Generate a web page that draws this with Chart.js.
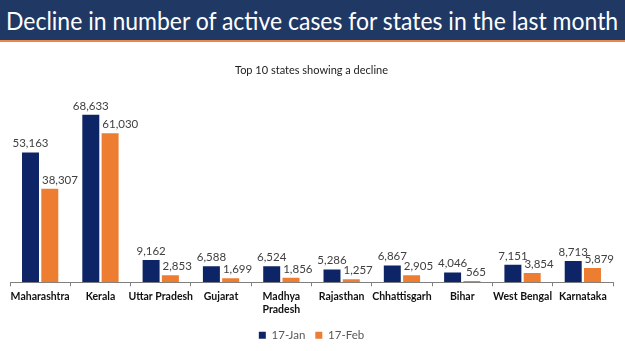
<!DOCTYPE html>
<html>
<head>
<meta charset="utf-8">
<script src="https://cdn.jsdelivr.net/npm/chart.js@4/dist/chart.umd.min.js"></script>
<style>
	html, body { margin:0; padding:0; background:#fff; }
	body { width:625px; height:351px; overflow:hidden; }
	.banner {
		height:40px; background:#1f3864; color:#fff;
		font-family:Lato, "Open Sans", sans-serif; font-size:25px;
		line-height:40px; white-space:nowrap; overflow:hidden;
		border-bottom:2px solid #e8894a;
	}
	.banner span { display:inline-block; transform-origin:0 50%; margin-left:6px; }
	.wrap { position:relative; width:625px; height:309px; }
</style>
</head>
<body>
<div class="banner"><span id="bannerText">Decline in number of active cases for states in the last month</span></div>
<div class="wrap"><canvas id="casesChart"></canvas></div>
<script>
const states = ['Maharashtra', 'Kerala', 'Uttar Pradesh', 'Gujarat', ['Madhya', 'Pradesh'], 'Rajasthan', 'Chhattisgarh', 'Bihar', 'West Bengal', 'Karnataka'];
const jan17 = [53163, 68633, 9162, 6588, 6524, 5286, 6867, 4046, 7151, 8713];
const feb17 = [38307, 61030, 2853, 1699, 1856, 1257, 2905, 565, 3854, 5879];
const seriesNames = ['17-Jan', '17-Feb'];

// squeeze the banner heading to the width it has in the slide
let bt = document.getElementById('bannerText');
bt.style.transform = 'scaleX(' + (612 / bt.offsetWidth) + ')';

// Excel style value labels above each bar, the second series pushed clear of the first
const valueLabels = {
	id: 'valueLabels',
	afterDatasetsDraw(chart) {
		const ctx = chart.ctx;
		ctx.save();
		ctx.font = '11.5px Lato, "Open Sans", sans-serif';
		ctx.fillStyle = '#404040';
		ctx.textAlign = 'left';
		ctx.textBaseline = 'bottom';
		const first = chart.getDatasetMeta(0).data;
		chart.data.datasets.forEach((ds, i) => {
			chart.getDatasetMeta(i).data.forEach((bar, j) => {
				let txt = ds.data[j].toLocaleString('en-US');
				let w = ctx.measureText(txt).width;
				let left = bar.x - w / 2;
				if (i == 1) {
					let prev = first[j];
					left += 4;
					if (prev.y < bar.y - 3) left = Math.max(left, prev.x + prev.width / 2 + 3);
				}
				ctx.fillText(txt, left, bar.y - 3);
			});
		});
		ctx.restore();
	}
};

new Chart('casesChart', {
	type: 'bar',
	data: {
		labels: states,
		datasets: [
			{ label: seriesNames[0], data: jan17, backgroundColor: '#0d2566' },
			{ label: seriesNames[1], data: feb17, backgroundColor: '#ed7d31' }
		]
	},
	options: {
		responsive: true,
		maintainAspectRatio: false,
		animation: false,
		categoryPercentage: 0.64,
		barPercentage: 0.88,
		layout: { padding: { left: 10, right: 12, top: 0, bottom: 0 } },
		plugins: {
			title: {
				display: true,
				text: 'Top 10 states showing a decline',
				color: '#222',
				font: { family: 'Lato, "Open Sans", sans-serif', size: 11, weight: 'normal' },
				padding: { top: 22, bottom: 22 }
			},
			legend: {
				position: 'bottom',
				labels: {
					boxWidth: 7, boxHeight: 7, padding: 10,
					color: '#595959',
					font: { family: 'Lato, "Open Sans", sans-serif', size: 11.5 }
				}
			},
			tooltip: { enabled: false }
		},
		scales: {
			x: {
				grid: { drawOnChartArea: false, drawTicks: true, tickLength: 4, color: '#7f7f7f' },
				border: { color: '#7f7f7f' },
				ticks: {
					maxRotation: 0, autoSkip: false, padding: 4,
					color: '#111',
					font: { family: 'Lato, "Open Sans", sans-serif', size: 10.5, weight: 'bold' }
				}
			},
			y: { display: false, min: 0, max: 75000 }
		}
	},
	plugins: [valueLabels]
});
</script>
</body>
</html>
